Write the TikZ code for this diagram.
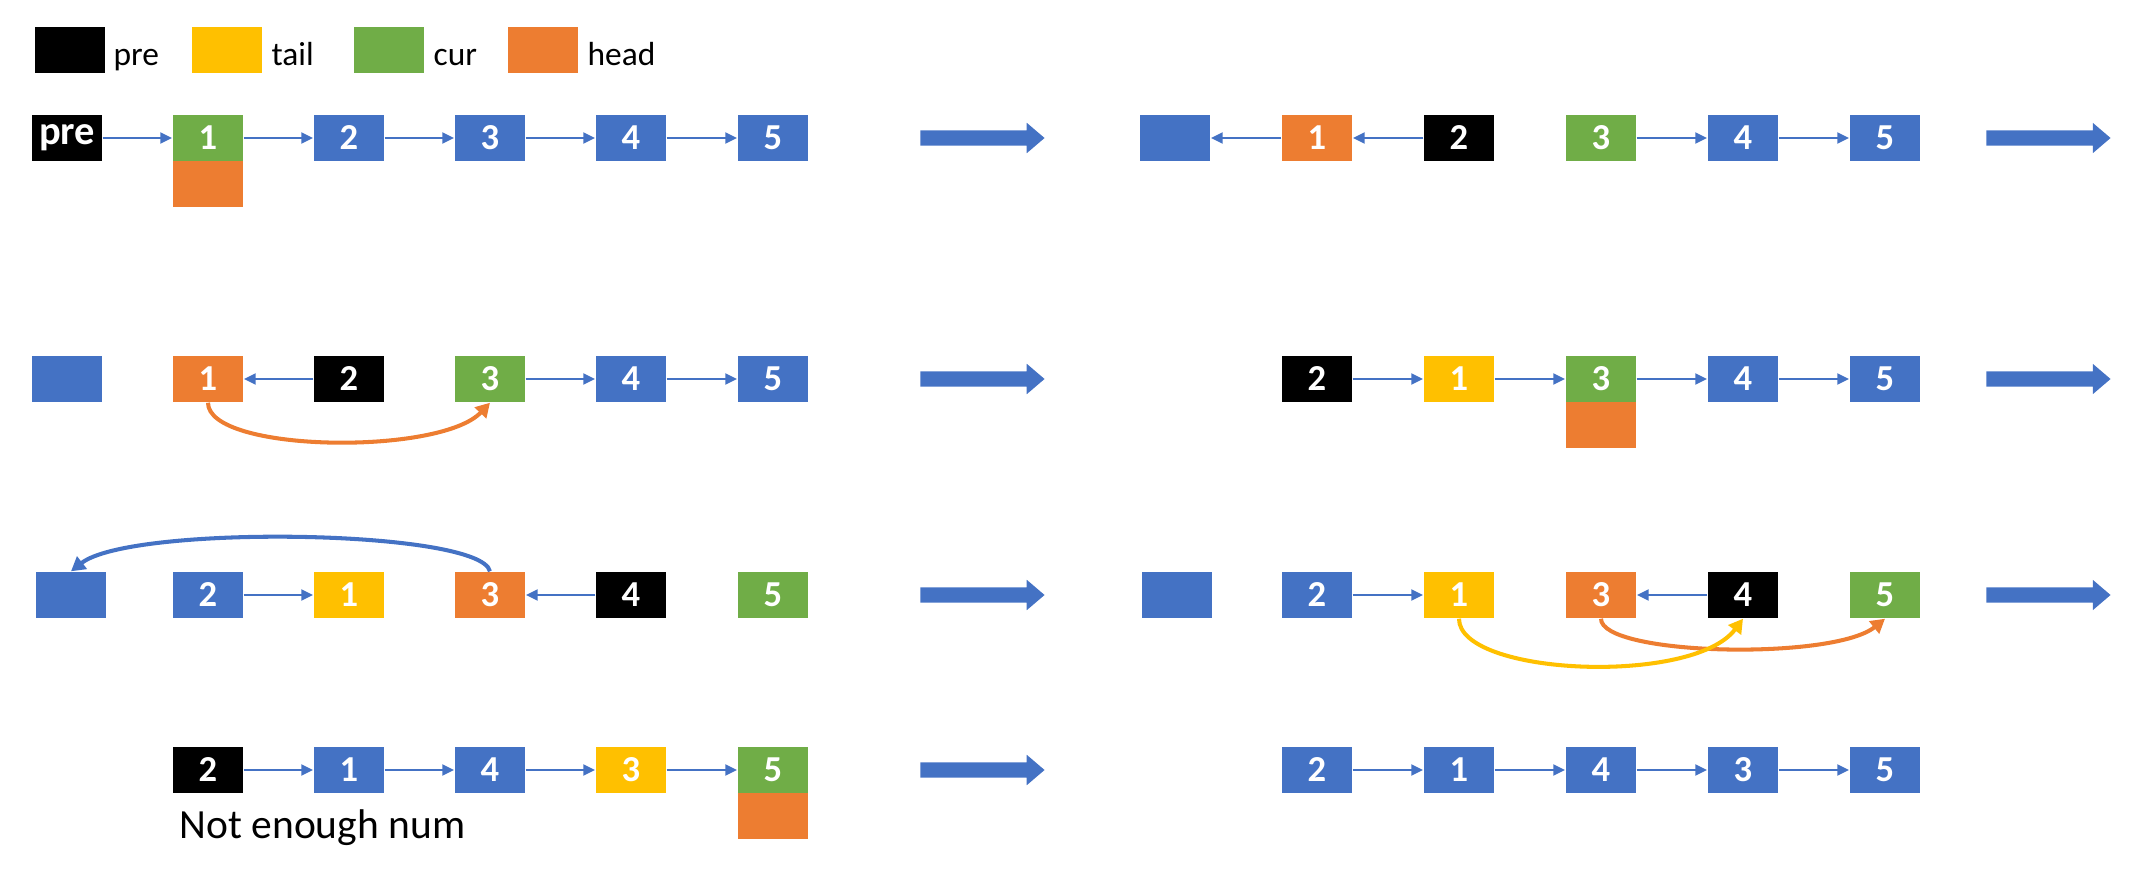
\documentclass[tikz,border=0pt]{standalone}
\usepackage{fontspec}
\setmainfont{Carlito}
\usetikzlibrary{arrows.meta,shapes.arrows}
\definecolor{boxblue}{HTML}{4472C4}
\definecolor{boxorange}{HTML}{ED7D31}
\definecolor{boxyellow}{HTML}{FFC000}
\definecolor{boxgreen}{HTML}{70AD47}
\begin{document}
\begin{tikzpicture}[x=0.01cm,y=-0.01cm,
	cell/.style={minimum width=0.7cm,minimum height=0.46cm,inner sep=0pt,text=white,font=\bfseries\fontsize{10.4}{12}\selectfont},
	plainbox/.style={cell,fill=boxblue},
	prebox/.style={cell,fill=black},
	tailbox/.style={cell,fill=boxyellow},
	curbox/.style={cell,fill=boxgreen},
	headbox/.style={cell,fill=boxorange},
	link/.style={draw=boxblue,line width=0.85pt,-{Triangle[length=3.4pt,width=3pt]}},
	jump/.style={line width=1.15pt,-{Triangle[length=4pt,width=4.4pt]}},
	legendtext/.style={anchor=base west,inner sep=0pt,font=\fontsize{9.5}{11}\selectfont},
	nextstep/.style={single arrow,fill=boxblue,inner xsep=0pt,inner ysep=0.07cm,minimum height=1.24cm,single arrow head extend=0.075cm,single arrow tip angle=81}]
			\useasboundingbox (0,0) rectangle (2135,882);
			
			% legend
			\node	(kpre) at (70,50) [prebox] {};
			\node	(kpretext) at (113,66) [legendtext] {pre};
			\node	(ktail) at (227,50) [tailbox] {};
			\node	(ktailtext) at (271,66) [legendtext] {tail};
			\node	(kcur) at (389,50) [curbox] {};
			\node	(kcurtext) at (433,66) [legendtext] {cur};
			\node	(khead) at (543,50) [headbox] {};
			\node	(kheadtext) at (587,66) [legendtext] {head};
			
			% big arrows
			\node	(go1) at (978,138) [nextstep] {};
			\node	(go2) at (2044,138) [nextstep] {};
			\node	(go3) at (978,379) [nextstep] {};
			\node	(go4) at (2044,379) [nextstep] {};
			\node	(go5) at (978,595) [nextstep] {};
			\node	(go6) at (2044,595) [nextstep] {};
			\node	(go7) at (978,770) [nextstep] {};
			
			% row 1
			\node	(la0) at (67,138) [prebox,font=\bfseries\fontsize{11.5}{12}\selectfont] {pre};
			\node	(la1) at (208,138) [curbox] {1};
			\node	(ua1) at (208,184) [headbox] {};
			\node	(la2) at (349,138) [plainbox] {2};
			\node	(la3) at (490,138) [plainbox] {3};
			\node	(la4) at (631,138) [plainbox] {4};
			\node	(la5) at (773,138) [plainbox] {5};
			
			\node	(ra0) at (1175,138) [plainbox] {};
			\node	(ra1) at (1317,138) [headbox] {1};
			\node	(ra2) at (1459,138) [prebox] {2};
			\node	(ra3) at (1601,138) [curbox] {3};
			\node	(ra4) at (1743,138) [plainbox] {4};
			\node	(ra5) at (1885,138) [plainbox] {5};
			
			% row 2
			\node	(lb0) at (67,379) [plainbox] {};
			\node	(lb1) at (208,379) [headbox] {1};
			\node	(lb2) at (349,379) [prebox] {2};
			\node	(lb3) at (490,379) [curbox] {3};
			\node	(lb4) at (631,379) [plainbox] {4};
			\node	(lb5) at (773,379) [plainbox] {5};
			
			\node	(rb1) at (1317,379) [prebox] {2};
			\node	(rb2) at (1459,379) [tailbox] {1};
			\node	(rb3) at (1601,379) [curbox] {3};
			\node	(ub3) at (1601,425) [headbox] {};
			\node	(rb4) at (1743,379) [plainbox] {4};
			\node	(rb5) at (1885,379) [plainbox] {5};
			
			% row 3
			\node	(lc0) at (71,595) [plainbox] {};
			\node	(lc1) at (208,595) [plainbox] {2};
			\node	(lc2) at (349,595) [tailbox] {1};
			\node	(lc3) at (490,595) [headbox] {3};
			\node	(lc4) at (631,595) [prebox] {4};
			\node	(lc5) at (773,595) [curbox] {5};
			
			\node	(rc0) at (1177,595) [plainbox] {};
			\node	(rc1) at (1317,595) [plainbox] {2};
			\node	(rc2) at (1459,595) [tailbox] {1};
			\node	(rc3) at (1601,595) [headbox] {3};
			\node	(rc4) at (1743,595) [prebox] {4};
			\node	(rc5) at (1885,595) [curbox] {5};
			
			% row 4
			\node	(ld1) at (208,770) [prebox] {2};
			\node	(ld2) at (349,770) [plainbox] {1};
			\node	(ld3) at (490,770) [plainbox] {4};
			\node	(ld4) at (631,770) [tailbox] {3};
			\node	(ld5) at (773,770) [curbox] {5};
			\node	(ud5) at (773,816) [headbox] {};
			\node	(note) at (179,838) [anchor=base west,inner sep=0pt,font=\fontsize{11.8}{14}\selectfont] {Not enough num};
			
			\node	(rd1) at (1317,770) [plainbox] {2};
			\node	(rd2) at (1459,770) [plainbox] {1};
			\node	(rd3) at (1601,770) [plainbox] {4};
			\node	(rd4) at (1743,770) [plainbox] {3};
			\node	(rd5) at (1885,770) [plainbox] {5};
			
			\draw 
			(la0) edge[link] (la1) 
			(la1) edge[link] (la2)
			(la2) edge[link] (la3)
			(la3) edge[link] (la4)
			(la4) edge[link] (la5)
			(ra1) edge[link] (ra0)
			(ra2) edge[link] (ra1)
			(ra3) edge[link] (ra4)
			(ra4) edge[link] (ra5)
			(lb2) edge[link] (lb1)
			(lb3) edge[link] (lb4)
			(lb4) edge[link] (lb5)
			(rb1) edge[link] (rb2)
			(rb2) edge[link] (rb3)
			(rb3) edge[link] (rb4)
			(rb4) edge[link] (rb5)
			(lc1) edge[link] (lc2)
			(lc4) edge[link] (lc3)
			(rc1) edge[link] (rc2)
			(rc4) edge[link] (rc3)
			(ld1) edge[link] (ld2)
			(ld2) edge[link] (ld3)
			(ld3) edge[link] (ld4)
			(ld4) edge[link] (ld5)
			(rd1) edge[link] (rd2)
			(rd2) edge[link] (rd3)
			(rd3) edge[link] (rd4)
			(rd4) edge[link] (rd5)
			;
			
			% curved moves
			\draw[jump,boxorange] (lb1.south) .. controls +(0,50) and +(-50,53) .. (lb3.south);
			\draw[jump,boxblue] (lc3.north) .. controls +(-10,-42) and +(60,-47) .. (lc0.north);
			\draw[jump,boxorange] (rc3.south) .. controls +(0,37) and +(-52,42) .. (rc5.south);
			\draw[jump,boxyellow] (rc2.south) .. controls +(0,57) and +(-50,67) .. (rc4.south);
		\end{tikzpicture}
\end{document}
